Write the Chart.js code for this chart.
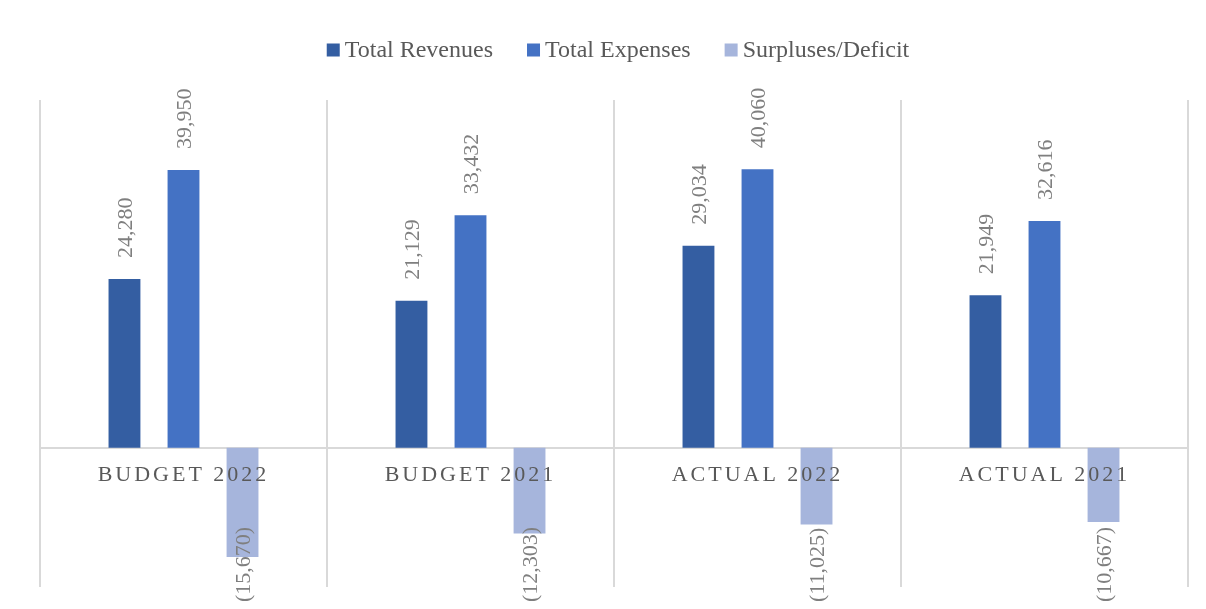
<!DOCTYPE html>
<html>
<head>
<meta charset="utf-8">
<script src="https://cdn.jsdelivr.net/npm/chart.js@4.4.1/dist/chart.umd.min.js"></script>
<style>
  html,body{margin:0;padding:0;background:#fff}
  #wrap{width:1206px;height:609px;position:relative}
</style>
</head>
<body>
<div id="wrap"><canvas id="chart"></canvas></div>
<script>
// data dibaca dari gambar referensi
const categories=['BUDGET 2022','BUDGET 2021','ACTUAL 2022','ACTUAL 2021'];
const seriesNames=['Total Revenues','Total Expenses','Surpluses/Deficit'];
const revenues=[24280,21129,29034,21949];
const expenses=[39950,33432,40060,32616];
const surplus=[-15670,-12303,-11025,-10667];
const yRange=[-20000,50000];

const COLORS={ rev:'#345ea2', exp:'#4472c4', sur:'#a6b5dc', grid:'#d9d9d9', text:'#595959', label:'#7f7f7f' };
const FONT='"Liberation Serif","Times New Roman",serif';

function fmtVal(v){
  const s=Math.abs(v).toLocaleString('en-US');
  return v<0?`(${s})`:s;
}

// label angka diputar 90 derajat, di atas bar (atau di bawah kalau negatif)
const valueLabels={
  id:'valueLabels',
  afterDatasetsDraw(chart){
    const ctx=chart.ctx;
    ctx.save();
    ctx.font=`22px ${FONT}`;
    ctx.fillStyle=COLORS.label;
    ctx.textAlign='left';
    ctx.textBaseline='middle';
    chart.data.datasets.forEach((ds,di)=>{
      chart.getDatasetMeta(di).data.forEach((bar,i)=>{
        const v=ds.data[i];
        const txt=fmtVal(v);
        const w=ctx.measureText(txt).width;
        let y=v>=0?bar.y-21:Math.min(bar.y+10+w,chart.height-7);
        ctx.save();
        ctx.translate(bar.x+2,y);
        ctx.rotate(-Math.PI/2);
        ctx.fillText(txt,0,0);
        ctx.restore();
      });
    });
    ctx.restore();
    // huruf kategori pakai spasi lebar (tick digambar sesudah ini karena z:1)
    ctx.letterSpacing='3px';
  },
  afterDraw(chart){
    const ctx=chart.ctx;
    ctx.letterSpacing='0px';
    // legend manual supaya jarak kotak-teks rapat seperti aslinya
    ctx.save();
    ctx.font=`24px ${FONT}`;
    ctx.textBaseline='middle';
    ctx.textAlign='left';
    const box=13, gap=5, between=34;
    const cols=[COLORS.rev,COLORS.exp,COLORS.sur];
    const widths=seriesNames.map(n=>box+gap+ctx.measureText(n).width);
    const total=widths.reduce((a,b)=>a+b,0)+between*(seriesNames.length-1);
    const ca=chart.chartArea;
    let x=(ca.left+ca.right)/2-total/2+4;
    const y=50;
    seriesNames.forEach((n,i)=>{
      ctx.fillStyle=cols[i];
      ctx.fillRect(x,y-box/2,box,box);
      ctx.fillStyle=COLORS.text;
      ctx.fillText(n,x+box+gap,y+1);
      x+=widths[i]+between;
    });
    ctx.restore();
  }
};

const ctx=document.getElementById('chart').getContext('2d');
new Chart(ctx,{
  type:'bar',
  data:{
    labels:categories,
    datasets:[
      { label:seriesNames[0], data:revenues, backgroundColor:COLORS.rev },
      { label:seriesNames[1], data:expenses, backgroundColor:COLORS.exp },
      { label:seriesNames[2], data:surplus, backgroundColor:COLORS.sur }
    ]
  },
  options:{
    responsive:true, maintainAspectRatio:false, animation:false,
    categoryPercentage:0.617, barPercentage:0.54,
    layout:{ padding:{ top:100, left:40, right:18, bottom:22 } },
    plugins:{ legend:{display:false}, tooltip:{enabled:false} },
    scales:{
      x:{
        position:{ y:0 },
        grid:{ color:COLORS.grid, lineWidth:2, drawTicks:false, offset:true },
        border:{ display:true, color:COLORS.grid, width:2 },
        ticks:{ color:COLORS.text, font:{ family:FONT, size:22 }, padding:14, maxRotation:0, autoSkip:false, z:1 }
      },
      y:{ display:false, min:yRange[0], max:yRange[1] }
    }
  },
  plugins:[valueLabels]
});
</script>
</body>
</html>
